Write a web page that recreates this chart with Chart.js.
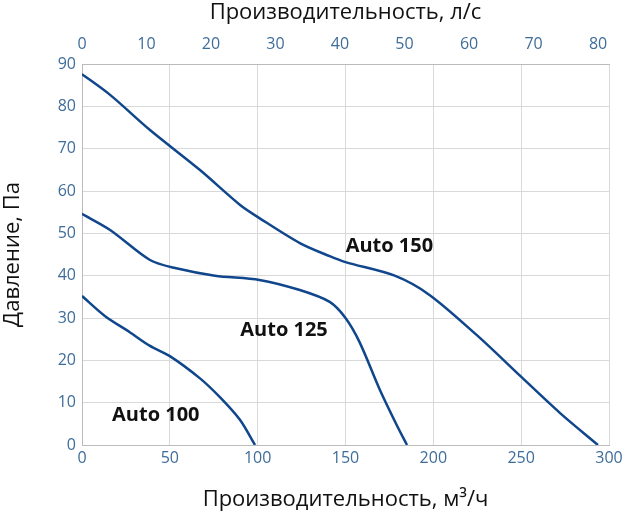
<!DOCTYPE html>
<html><head><meta charset="utf-8">
<script src="https://cdn.jsdelivr.net/npm/chart.js@4/dist/chart.umd.min.js"></script>
<style>html,body{margin:0;background:#fff}#wrap{width:636px;height:517px}</style>
</head><body><div id="wrap"><canvas id="c"></canvas></div>
<script>
const auto150 = [[0,87.6],[16,82.7],[38.7,74.4],[67,65],[90,56.7],[101,53.6],[124,47.7],[141,44.6],[150,43.2],[178,40],[198,35.4],[226.5,25.3],[249,16.5],[272,7.6],[293.7,0]];
const auto125 = [[0,54.6],[16,50.8],[38.7,43.7],[53,41.8],[75.7,40],[101,39],[124,36.6],[141,33.8],[150,30],[158,24.3],[169.6,13],[180,4],[185,0]];
const auto100 = [[0,35.2],[13,30.5],[27,26.7],[38.7,23.4],[50,21],[67,15.8],[78.5,11.3],[90,5.9],[98.5,0]];
const topTicks = [0,10,20,30,40,50,60,70,80];
const curveLabels = [['Auto 150',175,47],['Auto 125',115,27],['Auto 100',42,7]];
const toPts = a => a.map(([x,y]) => ({x,y}));
const FONT = '"Open Sans", sans-serif';
const tickColor = '#3f6d9a';
const grid = '#d9d9d9';

const labelPlugin = {
  id: 'lbl',
  afterDatasetsDraw(chart) {
    const {ctx, scales:{x,y}} = chart;
    ctx.save();
    ctx.font = 'bold 20px ' + FONT;
    ctx.fillStyle = '#111';
    ctx.textAlign = 'center'; ctx.textBaseline = 'middle';
    curveLabels.forEach(([t,vx,vy]) => ctx.fillText(t, x.getPixelForValue(vx), y.getPixelForValue(vy)));
    ctx.restore();
  }
};
const ds = d => ({data: toPts(d), borderColor:'#10468c', borderWidth:2.5, pointRadius:0, tension:0.3, fill:false});
new Chart(document.getElementById('c'), {
  type: 'line',
  data: {datasets: [ds(auto150), ds(auto125), ds(auto100)]},
  options: {
    responsive:true, maintainAspectRatio:false, animation:false,
    layout:{padding:{right:27,left:0,top:0,bottom:0}},
    plugins:{legend:{display:false}, tooltip:{enabled:false}},
    scales:{
      x:{type:'linear', position:'bottom', min:0, max:300,
        ticks:{stepSize:50, color:tickColor, font:{family:FONT,size:16}, padding:4},
        grid:{color:grid, drawTicks:false}, border:{color:'#bbb'},
        title:{display:true, text:'Производительность, м³/ч', color:'#111', font:{family:FONT,size:22}, padding:{top:0}},
        afterFit(s){s.height=72;}},
      x2:{type:'linear', position:'top', min:0, max:81.7,
        afterBuildTicks(s){s.ticks = topTicks.map(v => ({value:v}));},
        ticks:{color:tickColor, font:{family:FONT,size:16}, padding:2},
        grid:{display:false}, border:{color:'#bbb'},
        title:{display:true, text:'Производительность, л/с', color:'#111', font:{family:FONT,size:22}, padding:{bottom:0,top:0}},
        afterFit(s){s.height=64;}},
      y:{type:'linear', min:0, max:90,
        ticks:{stepSize:10, color:tickColor, font:{family:FONT,size:16}, padding:6},
        grid:{color:grid, drawTicks:false}, border:{color:'#bbb'},
        title:{display:true, text:'Давление, Па', color:'#111', font:{family:FONT,size:22}, padding:{bottom:0,top:0}},
        afterFit(s){s.width=82;}}
    }
  },
  plugins:[labelPlugin]
});
</script></body></html>
